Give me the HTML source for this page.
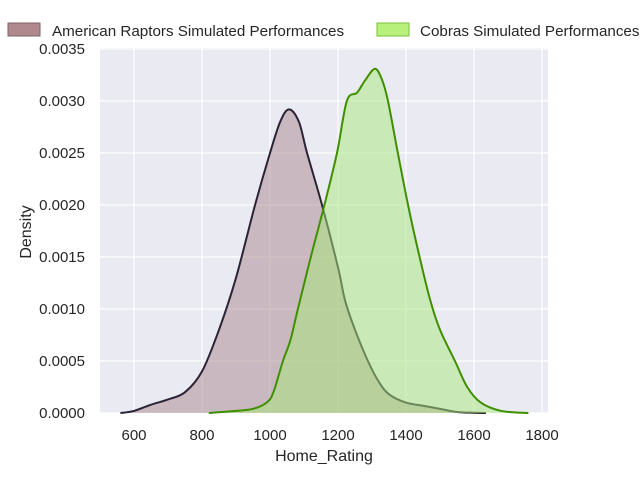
<!DOCTYPE html>
<html><head><meta charset="utf-8"><style>
body{margin:0;background:#fff;}
svg{display:block;font-family:"Liberation Sans","DejaVu Sans",sans-serif;}
</style></head><body>
<svg id="chart" width="640" height="480"></svg>
<script>
const xTicks=[600,800,1000,1200,1400,1600,1800];
const yTicks=[0,0.0005,0.001,0.0015,0.002,0.0025,0.003,0.0035];
const yTickLabels=["0.0000","0.0005","0.0010","0.0015","0.0020","0.0025","0.0030","0.0035"];
const raptorsX=[560,600,650,700,750,800,850,900,956,1000,1030,1056,1085,1109,1153,1200,1221,1250,1288,1320,1350,1400,1450,1500,1550,1600,1635];
const raptorsY=[0,0.00002,0.00008,0.00013,0.0002,0.0004,0.0008,0.0013,0.002,0.0025,0.0028,0.00292,0.0028,0.0025,0.002,0.0014,0.00108,0.0008,0.0005,0.0003,0.00018,0.0001,0.00007,0.00004,0.00001,0.000002,0];
const cobrasX=[820,900,950,990,1010,1038,1060,1082,1120,1160,1197,1226,1256,1280,1309,1330,1347,1376,1406,1435,1470,1500,1544,1580,1620,1680,1760];
const cobrasY=[0,0.00002,0.00004,0.0001,0.0002,0.0005,0.0007,0.001,0.0015,0.002,0.0025,0.003,0.00308,0.0032,0.00331,0.0032,0.003,0.0025,0.002,0.00157,0.0011,0.0008,0.0005,0.00025,0.0001,0.00002,0];
const NS="http://www.w3.org/2000/svg";
const svg=document.getElementById('chart');
const L=100,R=548,T=48,B=413;
const sx=v=>134+(v-600)*0.34;
const sy=v=>413-v/0.0005*52;
function el(tag,attrs,parent){const e=document.createElementNS(NS,tag);for(const k in attrs)e.setAttribute(k,attrs[k]);(parent||svg).appendChild(e);return e;}
const bg=el('rect',{x:L,y:T,width:R-L,height:B-T,fill:'#eaeaf2'});


xTicks.forEach(t=>{
 const g=el('line',{x1:sx(t),x2:sx(t),y1:T,y2:B,stroke:'#fff','stroke-width':1.2});
 
 
 const tx=el('text',{x:sx(t),y:440,'text-anchor':'middle','font-size':15,fill:'#262626'});tx.textContent=t;
 
 
});
yTicks.forEach((t,i)=>{
 const g=el('line',{x1:L,x2:R,y1:sy(t),y2:sy(t),stroke:'#fff','stroke-width':1.2});
 
 
 const tx=el('text',{x:85,y:sy(t)+5,'text-anchor':'end','font-size':15,fill:'#262626'});tx.textContent=yTickLabels[i];
 
 
});
function pathD(xs,ys){
 const p=xs.map((x,i)=>[sx(x),sy(ys[i])]);
 let d='M'+p[0][0]+','+p[0][1];
 for(let i=0;i<p.length-1;i++){
  const p0=p[i-1]||p[i],p1=p[i],p2=p[i+1],p3=p[i+2]||p2;
  const c1=[p1[0]+(p2[0]-p0[0])/6,p1[1]+(p2[1]-p0[1])/6];
  const c2=[p2[0]-(p3[0]-p1[0])/6,p2[1]-(p3[1]-p1[1])/6];
  d+=` C${c1[0]},${Math.min(c1[1],B)} ${c2[0]},${Math.min(c2[1],B)} ${p2[0]},${p2[1]}`;
 }
 return d;
}
function series(xs,ys,fill,stroke,name){
 const d=pathD(xs,ys);
 const f=el('path',{d:d+` L${sx(xs[xs.length-1])},${B} L${sx(xs[0])},${B} Z`,fill:fill,'fill-opacity':0.5});
 
 
 const l=el('path',{d:d,fill:'none',stroke:stroke,'stroke-width':2});
 
 
}
series(raptorsX,raptorsY,'#a8868c','#2a2436','raptors');
series(cobrasX,cobrasY,'#a8e87a','#3f8f00','cobras');
const xl=el('text',{x:324,y:461,'text-anchor':'middle','font-size':16,fill:'#262626'});xl.textContent='Home_Rating';


const yl=el('text',{x:0,y:0,'text-anchor':'middle','font-size':16,fill:'#262626',transform:'translate(31,232) rotate(-90)'});yl.textContent='Density';


const lg=el('g',{});


const r1=el('rect',{x:8,y:23,width:32,height:13,fill:'#b0898e',stroke:'#7a6468'},lg);


const t1=el('text',{x:52,y:36,'font-size':15.2,fill:'#262626'},lg);t1.textContent='American Raptors Simulated Performances';


const r2=el('rect',{x:377,y:23,width:32,height:13,fill:'#b8f07c',stroke:'#7cc03e'},lg);


const t2=el('text',{x:420,y:36,'font-size':15.2,fill:'#262626'},lg);t2.textContent='Cobras Simulated Performances';


</script>
</body></html>
